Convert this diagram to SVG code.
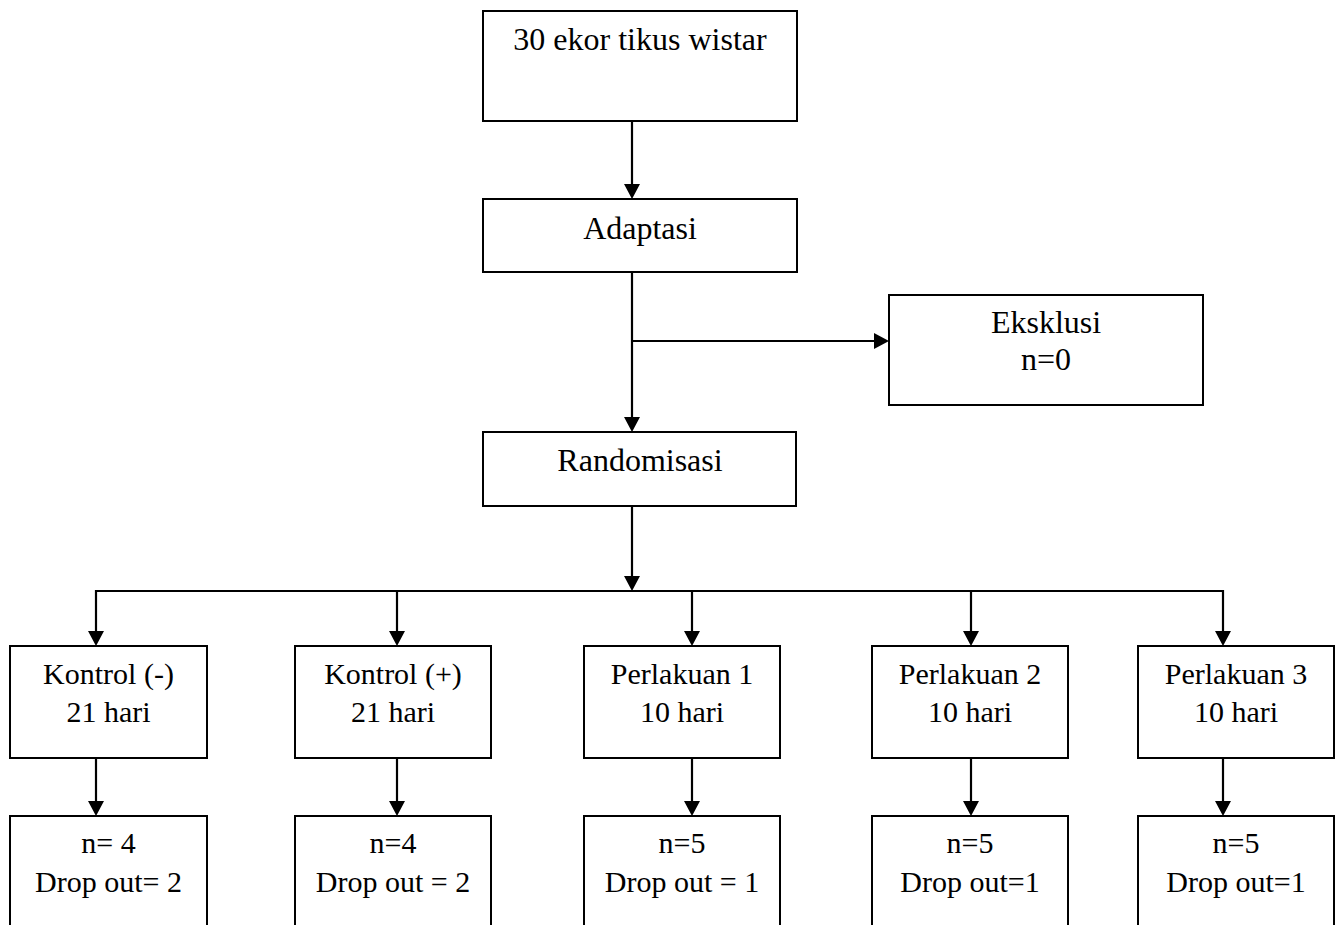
<svg xmlns="http://www.w3.org/2000/svg" width="1341" height="925" viewBox="0 0 1341 925">
<style>
.box{fill:#fff;stroke:#000;stroke-width:2}
.t{font-family:"Liberation Serif","Times New Roman",serif;font-size:32px;fill:#000;text-anchor:middle}
.s{font-size:30px}
.c{stroke:#000;stroke-width:2.2;fill:none}
</style>
<defs>
<marker id="ah" viewBox="0 0 15 16" refX="1" refY="8" markerWidth="15" markerHeight="16" markerUnits="userSpaceOnUse" orient="auto">
<path d="M0,0 L15,8 L0,16 z" fill="#000"/>
</marker>
</defs>
<rect width="1341" height="925" fill="#fff"/>
<g id="connectors">
<line class="c" x1="632" y1="121" x2="632" y2="185" marker-end="url(#ah)"/>
<line class="c" x1="632" y1="272" x2="632" y2="418" marker-end="url(#ah)"/>
<line class="c" x1="632" y1="341" x2="875" y2="341" marker-end="url(#ah)"/>
<line class="c" x1="632" y1="506" x2="632" y2="577" marker-end="url(#ah)"/>
<line class="c" x1="95" y1="591" x2="1224" y2="591"/>
<line class="c" x1="96" y1="590" x2="96" y2="632" marker-end="url(#ah)"/>
<line class="c" x1="397" y1="591" x2="397" y2="632" marker-end="url(#ah)"/>
<line class="c" x1="692" y1="591" x2="692" y2="632" marker-end="url(#ah)"/>
<line class="c" x1="971" y1="591" x2="971" y2="632" marker-end="url(#ah)"/>
<line class="c" x1="1223" y1="590" x2="1223" y2="632" marker-end="url(#ah)"/>
<line class="c" x1="96" y1="759" x2="96" y2="802" marker-end="url(#ah)"/>
<line class="c" x1="397" y1="759" x2="397" y2="802" marker-end="url(#ah)"/>
<line class="c" x1="692" y1="759" x2="692" y2="802" marker-end="url(#ah)"/>
<line class="c" x1="971" y1="759" x2="971" y2="802" marker-end="url(#ah)"/>
<line class="c" x1="1223" y1="759" x2="1223" y2="802" marker-end="url(#ah)"/>
</g>
<g id="n-start">
<rect class="box" x="483" y="11" width="314" height="110"/>
<text class="t" x="640" y="50">30 ekor tikus wistar</text>
</g>
<g id="n-adaptasi">
<rect class="box" x="483" y="199" width="314" height="73"/>
<text class="t" x="640" y="239">Adaptasi</text>
</g>
<g id="n-eksklusi">
<rect class="box" x="889" y="295" width="314" height="110"/>
<text class="t" x="1046" y="333">Eksklusi</text>
<text class="t" x="1046" y="370">n=0</text>
</g>
<g id="n-randomisasi">
<rect class="box" x="483" y="432" width="313" height="74"/>
<text class="t" x="640" y="471">Randomisasi</text>
</g>
<g id="n-kneg">
<rect class="box" x="10" y="646" width="197" height="112"/>
<text class="t s" x="108.5" y="684">Kontrol (-)</text>
<text class="t s" x="108.5" y="722">21 hari</text>
</g>
<g id="n-kpos">
<rect class="box" x="295" y="646" width="196" height="112"/>
<text class="t s" x="393" y="684">Kontrol (+)</text>
<text class="t s" x="393" y="722">21 hari</text>
</g>
<g id="n-p1">
<rect class="box" x="584" y="646" width="196" height="112"/>
<text class="t s" x="682" y="684">Perlakuan 1</text>
<text class="t s" x="682" y="722">10 hari</text>
</g>
<g id="n-p2">
<rect class="box" x="872" y="646" width="196" height="112"/>
<text class="t s" x="970" y="684">Perlakuan 2</text>
<text class="t s" x="970" y="722">10 hari</text>
</g>
<g id="n-p3">
<rect class="box" x="1138" y="646" width="196" height="112"/>
<text class="t s" x="1236" y="684">Perlakuan 3</text>
<text class="t s" x="1236" y="722">10 hari</text>
</g>
<g id="n-kneg-out">
<rect class="box" x="10" y="816" width="197" height="130"/>
<text class="t s" x="108.5" y="853">n= 4</text>
<text class="t s" x="108.5" y="892">Drop out= 2</text>
</g>
<g id="n-kpos-out">
<rect class="box" x="295" y="816" width="196" height="130"/>
<text class="t s" x="393" y="853">n=4</text>
<text class="t s" x="393" y="892">Drop out = 2</text>
</g>
<g id="n-p1-out">
<rect class="box" x="584" y="816" width="196" height="130"/>
<text class="t s" x="682" y="853">n=5</text>
<text class="t s" x="682" y="892">Drop out = 1</text>
</g>
<g id="n-p2-out">
<rect class="box" x="872" y="816" width="196" height="130"/>
<text class="t s" x="970" y="853">n=5</text>
<text class="t s" x="970" y="892">Drop out=1</text>
</g>
<g id="n-p3-out">
<rect class="box" x="1138" y="816" width="196" height="130"/>
<text class="t s" x="1236" y="853">n=5</text>
<text class="t s" x="1236" y="892">Drop out=1</text>
</g>
</svg>
